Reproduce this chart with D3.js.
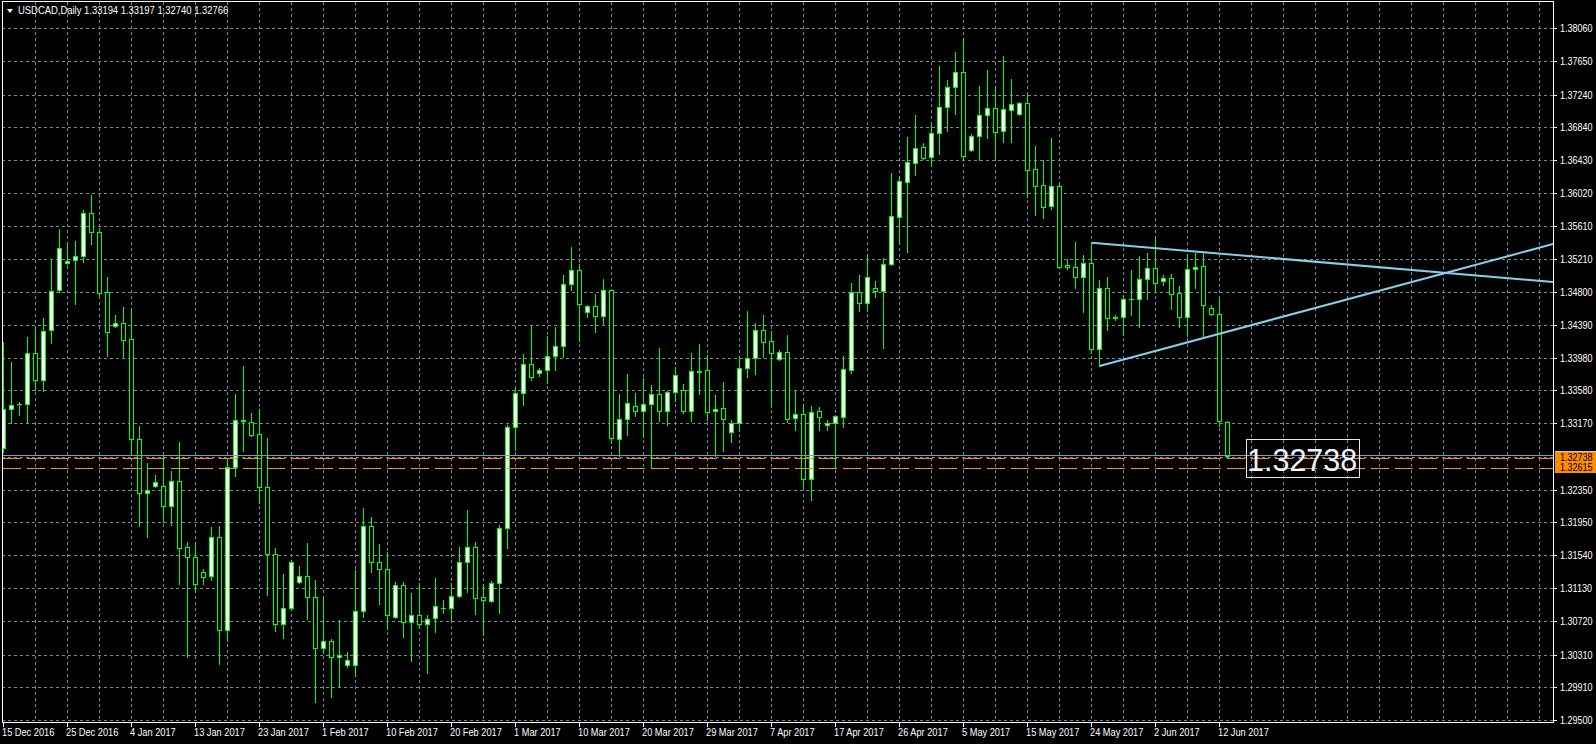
<!DOCTYPE html>
<html>
<head>
<meta charset="utf-8">
<script src="https://cdn.jsdelivr.net/npm/d3@7"></script>
<style>
  html, body { margin: 0; padding: 0; background: #000; }
  svg { display: block; }
  text { font-family: "Liberation Sans", Arial, sans-serif; }
</style>
</head>
<body>
<svg id="chart" width="1596" height="744"></svg>
<script>
// ---------------- DATA ----------------
const symbolTitle = "USDCAD,Daily";
const titleValues = ["1.33194", "1.33197", "1.32740", "1.32766"];

const opens = [
1.32866,1.33349,1.33411,1.33411,1.34042,1.33708,1.34326,1.34821,1.35156,1.35193,
1.35242,1.35774,1.35539,1.34797,1.34376,1.34413,1.34215,1.32978,1.32309,1.32396,
1.32396,1.32148,1.32458,1.31641,1.31517,1.31332,1.31282,1.31765,1.30614,1.32631,
1.33213,1.33188,1.33039,1.32384,1.31554,1.30688,1.30886,1.31208,1.31282,1.31022,
1.30391,1.30478,1.30280,1.30181,1.30181,1.30849,1.31901,1.31455,1.31369,1.30775,
1.31171,1.30713,1.30800,1.30688,1.30762,1.30886,1.30886,1.31035,1.31455,1.31641,
1.31022,1.30973,1.31196,1.31876,1.33126,1.33547,1.33906,1.33794,1.33831,1.34005,
1.34128,1.34896,1.35069,1.34549,1.34623,1.34500,1.34821,1.32978,1.33225,1.33386,
1.33324,1.33411,1.33534,1.33324,1.33559,1.33584,1.33324,1.33819,1.33831,1.33324,
1.33361,1.33064,1.33176,1.33856,1.33980,1.34326,1.34190,1.33968,1.34054,1.33237,
1.33287,1.32483,1.33324,1.33151,1.33176,1.33250,1.33831,1.34797,1.34661,1.34846,
1.34809,1.35143,1.35725,1.36158,1.36393,1.36591,1.36467,1.36764,1.37086,1.37334,
1.37519,1.36554,1.36727,1.36987,1.37074,1.36789,1.37049,1.36999,1.37136,1.36319,
1.36121,1.35861,1.36108,1.35131,1.35106,1.34982,1.35156,1.34091,1.34846,1.34487,
1.34487,1.34710,1.34710,1.34958,1.35094,1.34933,1.34970,1.34784,1.34487,1.35081,
1.35118,1.34599,1.34524,1.33194];

const highs = [
1.34178,1.33930,1.33435,1.34240,1.34364,1.34475,1.35205,1.35576,1.35403,1.35428,
1.35811,1.35997,1.35589,1.34982,1.34512,1.34611,1.34586,1.33138,1.32681,1.32532,
1.32780,1.32582,1.32940,1.31703,1.31703,1.31369,1.31889,1.31901,1.32730,1.33534,
1.33881,1.33299,1.33349,1.32990,1.31629,1.31307,1.31480,1.31406,1.31691,1.31233,
1.31022,1.30503,1.30738,1.30342,1.31356,1.32124,1.32012,1.31678,1.31579,1.31208,
1.31208,1.31072,1.31196,1.30800,1.31257,1.30985,1.31196,1.31641,1.32099,1.31703,
1.31183,1.31220,1.31913,1.33151,1.33609,1.34029,1.34376,1.33856,1.34252,1.34364,
1.35007,1.35354,1.35143,1.34636,1.34772,1.34958,1.34834,1.33534,1.33782,1.33547,
1.33732,1.33646,1.34104,1.33572,1.33869,1.33658,1.34042,1.34153,1.34017,1.33522,
1.33683,1.33213,1.34005,1.34562,1.34413,1.34512,1.34314,1.34079,1.34265,1.33584,
1.33411,1.33386,1.33374,1.33213,1.33275,1.34005,1.34908,1.35007,1.35267,1.34933,
1.35217,1.36269,1.36232,1.36715,1.36987,1.36641,1.36888,1.37593,1.37420,1.37767,
1.37940,1.36752,1.37346,1.37544,1.37346,1.37717,1.37433,1.37148,1.37247,1.36603,
1.36430,1.36702,1.36133,1.35205,1.35415,1.35255,1.35403,1.34945,1.34982,1.34512,
1.34760,1.35069,1.35242,1.35279,1.35477,1.35007,1.35019,1.34871,1.35267,1.35279,
1.35279,1.34636,1.34722,1.33197];

const lows = [
1.32817,1.33176,1.33275,1.33176,1.33584,1.33572,1.34166,1.34797,1.35143,1.34648,
1.35168,1.35391,1.34760,1.34005,1.34364,1.33992,1.32792,1.31901,1.31765,1.32384,
1.31950,1.31913,1.31183,1.30280,1.31084,1.31183,1.31233,1.30193,1.30478,1.32520,
1.32829,1.33015,1.32186,1.31047,1.30602,1.30515,1.30861,1.31196,1.30750,1.29723,
1.30329,1.29785,1.29909,1.30156,1.30045,1.30775,1.31332,1.30936,1.30626,1.30762,
1.30527,1.30230,1.30639,1.30082,1.30589,1.30824,1.30713,1.31022,1.31084,1.30812,
1.30552,1.30960,1.30824,1.31629,1.32841,1.33398,1.33708,1.33757,1.33671,1.33831,
1.33992,1.34821,1.34190,1.34487,1.34302,1.34401,1.32928,1.32767,1.33027,1.33262,
1.33002,1.32631,1.33200,1.33151,1.33448,1.33299,1.33200,1.33534,1.33213,1.32767,
1.32829,1.32940,1.33077,1.33745,1.33782,1.33992,1.33374,1.33955,1.33188,1.33089,
1.32384,1.32223,1.33089,1.33089,1.32619,1.33126,1.33794,1.34562,1.34562,1.34735,
1.34104,1.35131,1.35403,1.35292,1.36245,1.36443,1.36356,1.36504,1.36789,1.36999,
1.36430,1.36541,1.36430,1.36702,1.36467,1.36653,1.36653,1.36987,1.35972,1.35750,
1.35712,1.35824,1.35094,1.35081,1.34846,1.34549,1.34042,1.33881,1.34326,1.34450,
1.34265,1.34512,1.34364,1.34710,1.34797,1.34883,1.34586,1.34364,1.34252,1.34846,
1.34240,1.34512,1.33138,1.32740];

const closes = [
1.33349,1.33398,1.33415,1.34042,1.33708,1.34314,1.34809,1.35341,1.35180,1.35242,
1.35774,1.35539,1.34784,1.34302,1.34413,1.34203,1.32978,1.32309,1.32346,1.32445,
1.32148,1.32458,1.31629,1.31517,1.31183,1.31270,1.31765,1.30614,1.32631,1.33213,
1.33206,1.33027,1.32384,1.31554,1.30688,1.30886,1.31455,1.31282,1.31022,1.30391,
1.30478,1.30280,1.30305,1.30243,1.30849,1.31901,1.31455,1.31369,1.30800,1.31171,
1.30713,1.30800,1.30688,1.30750,1.30911,1.30892,1.31035,1.31455,1.31641,1.31010,
1.30985,1.31196,1.31876,1.33126,1.33547,1.33906,1.33745,1.33831,1.34005,1.34128,
1.34896,1.35069,1.34648,1.34623,1.34500,1.34821,1.32990,1.33225,1.33423,1.33324,
1.33411,1.33534,1.33324,1.33559,1.33770,1.33324,1.33819,1.33812,1.33312,1.33349,
1.33225,1.33176,1.33856,1.33980,1.34326,1.34178,1.34042,1.34054,1.33225,1.33287,
1.32483,1.33312,1.33250,1.33176,1.33262,1.33844,1.34797,1.34661,1.34982,1.34809,
1.35143,1.35737,1.36170,1.36405,1.36579,1.36455,1.36764,1.37086,1.37334,1.37519,
1.36480,1.36727,1.36987,1.37074,1.36777,1.37061,1.37123,1.37136,1.36306,1.36108,
1.35849,1.36108,1.35106,1.35106,1.34982,1.35156,1.34091,1.34846,1.34475,1.34481,
1.34710,1.34716,1.34958,1.35094,1.34908,1.34970,1.34772,1.34487,1.35081,1.35106,
1.34636,1.34524,1.33200,1.32766];

const dateLabels = ["15 Dec 2016","25 Dec 2016","4 Jan 2017","13 Jan 2017","23 Jan 2017",
  "1 Feb 2017","10 Feb 2017","20 Feb 2017","1 Mar 2017","10 Mar 2017","20 Mar 2017",
  "29 Mar 2017","7 Apr 2017","17 Apr 2017","26 Apr 2017","5 May 2017","15 May 2017",
  "24 May 2017","2 Jun 2017","12 Jun 2017"];
const dateLabelBars = [0,8,16,24,32,40,48,56,64,72,80,88,96,104,112,120,128,136,144,152];

const priceTicks = ["1.38060","1.37650","1.37240","1.36840","1.36430","1.36020","1.35610",
  "1.35210","1.34800","1.34390","1.33980","1.33580","1.33170","1.32760","1.32350","1.31950",
  "1.31540","1.31130","1.30720","1.30310","1.29910","1.29500"];
const hiddenTick = "1.32760";

// horizontal price lines (orange dashed) and bid line
const levelLines = [1.32738, 1.32615];
const bidPrice = 1.32766;
const bigLabelText = "1.32738";

// trendlines: [bar1, price1, bar2, price2] (extended to the right edge)
const trendTop = [136, 1.35407, 150, 1.35289];
const trendBottom = [137, 1.33881, 150, 1.34227];

// ---------------- LAYOUT ----------------
const svg = d3.select("#chart");
const W = 1596, H = 744;
const L = 2, R = 1553, T = 2, B = 723;
const FONT_SX = 0.86;

svg.append("rect").attr("width", W).attr("height", H).attr("fill", "#000");

const x = d3.scaleLinear().domain([0, 193.6875]).range([3.5, 1553]);
const y = d3.scaleLinear().domain([1.29500, 1.38060]).range([720, 28.3]);
const py = v => Math.round(y(v)) + 0.5;

svg.append("clipPath").attr("id", "plot")
  .append("rect").attr("x", L).attr("y", T).attr("width", R - L).attr("height", B - T);

const gridColor = "#778899";
const grid = svg.append("g").attr("clip-path", "url(#plot)");
grid.selectAll("line.h").data(priceTicks).join("line")
  .attr("x1", L).attr("x2", R)
  .attr("y1", d => py(+d)).attr("y2", d => py(+d))
  .attr("stroke", gridColor).attr("stroke-width", 1).attr("stroke-dasharray", "3,3");
const vBars = d3.range(4, 194, 4);
grid.selectAll("line.v").data(vBars).join("line")
  .attr("x1", d => x(d)).attr("x2", d => x(d))
  .attr("y1", T).attr("y2", B)
  .attr("stroke", gridColor).attr("stroke-width", 1).attr("stroke-dasharray", "3,3");

// candles
const bars = opens.map((o, i) => ({ i, o, h: highs[i], l: lows[i], c: closes[i] }));
const cg = svg.append("g").attr("clip-path", "url(#plot)");
const lime = "#00ff00";
cg.selectAll("line.wick").data(bars).join("line")
  .attr("x1", d => x(d.i)).attr("x2", d => x(d.i))
  .attr("y1", d => Math.round(y(d.h))).attr("y2", d => Math.round(y(d.l)) + 1)
  .attr("stroke", lime).attr("stroke-width", 1);
cg.selectAll("rect.body").data(bars.filter(d => Math.abs(Math.round(y(d.o)) - Math.round(y(d.c))) >= 1)).join("rect")
  .attr("x", d => x(d.i) - 2)
  .attr("width", 4)
  .attr("y", d => Math.round(y(Math.max(d.o, d.c))) + 0.5)
  .attr("height", d => Math.abs(Math.round(y(d.o)) - Math.round(y(d.c))))
  .attr("fill", d => d.c > d.o ? "#ffffff" : "#000000")
  .attr("stroke", lime).attr("stroke-width", 1);
cg.selectAll("line.doji").data(bars.filter(d => Math.abs(Math.round(y(d.o)) - Math.round(y(d.c))) < 1)).join("line")
  .attr("x1", d => x(d.i) - 2.5).attr("x2", d => x(d.i) + 2.5)
  .attr("y1", d => py(d.c)).attr("y2", d => py(d.c))
  .attr("stroke", lime).attr("stroke-width", 1);

// bid line
const og = svg.append("g").attr("clip-path", "url(#plot)");
og.append("line").attr("x1", L).attr("x2", R)
  .attr("y1", Math.round(y(bidPrice)) - 0.5).attr("y2", Math.round(y(bidPrice)) - 0.5)
  .attr("stroke", "#8c98a6").attr("stroke-width", 1);
og.selectAll("line.lvl").data(levelLines).join("line")
  .attr("x1", 3).attr("x2", R)
  .attr("y1", d => py(d)).attr("y2", d => py(d))
  .attr("stroke", "#ff8c00").attr("stroke-width", 1).attr("stroke-dasharray", "18,6");

function drawTrend(t) {
  const [b1, p1, b2, p2] = t;
  const slope = (p2 - p1) / (b2 - b1);
  const bEnd = x.invert(R);
  og.append("line")
    .attr("x1", x(b1)).attr("y1", y(p1))
    .attr("x2", x(bEnd)).attr("y2", y(p1 + slope * (bEnd - b1)))
    .attr("stroke", "#87ceeb").attr("stroke-width", 2);
}
drawTrend(trendTop);
drawTrend(trendBottom);

// big price label
og.append("rect").attr("x", 1246.5).attr("y", 439.5).attr("width", 113).attr("height", 38)
  .attr("fill", "none").attr("stroke", "#e6e6e6").attr("stroke-width", 1);
og.append("text").attr("x", 1247).attr("y", 471).attr("fill", "#f0f6ff")
  .attr("font-size", "30.5px").text(bigLabelText);

// frame
svg.append("rect").attr("x", L + 0.5).attr("y", T - 0.5).attr("width", R - L).attr("height", B - T)
  .attr("fill", "none").attr("stroke", "#ffffff").attr("stroke-width", 1);

function label(g, tx, ty, s, color, size, sx) {
  return g.append("text")
    .attr("transform", `translate(${tx},${ty}) scale(${sx || FONT_SX},1)`)
    .attr("fill", color).attr("font-size", (size || 10.5) + "px").text(s);
}

// price axis
const ax = svg.append("g");
priceTicks.forEach(t => {
  if (t === hiddenTick) return;
  const yy = py(+t);
  ax.append("line").attr("x1", R).attr("x2", R + 4).attr("y1", yy).attr("y2", yy)
    .attr("stroke", "#ffffff");
  label(ax, 1560, Math.round(y(+t)) + 4, t, "#ffffff");
});

// orange level labels
ax.append("rect").attr("x", 1555).attr("y", 451).attr("width", 41).attr("height", 22).attr("fill", "#ff8c00");
ax.append("line").attr("x1", 1555).attr("x2", 1596).attr("y1", 451.5).attr("y2", 451.5).attr("stroke", "#c8c8c8");
label(ax, 1560, 461, levelLines[0].toFixed(5), "#000000");
label(ax, 1560, 471, levelLines[1].toFixed(5), "#000000");

// date axis
dateLabels.forEach((s, k) => {
  const xx = x(dateLabelBars[k]);
  ax.append("line").attr("x1", xx).attr("x2", xx).attr("y1", B).attr("y2", B + 4).attr("stroke", "#ffffff");
  label(ax, xx - 1.5, 736, s, "#ffffff", 10.5, 0.88);
});

// title
svg.append("path").attr("d", "M7,9 L13,9 L10,13 Z").attr("fill", "#ffffff");
label(svg, 18, 14, symbolTitle + "  " + titleValues.join(" "), "#ffffff", 10.5, 0.9);
</script>
</body>
</html>
